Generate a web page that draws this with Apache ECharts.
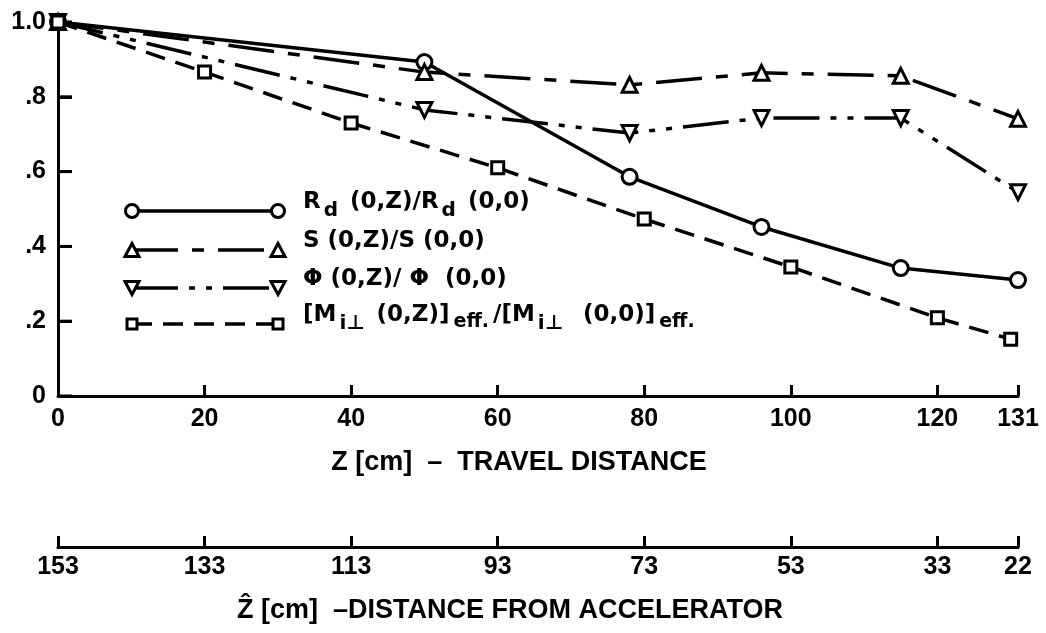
<!DOCTYPE html>
<html>
<head>
<meta charset="utf-8">
<script src="https://cdn.jsdelivr.net/npm/echarts@6/dist/echarts.min.js"></script>
<style>
  html, body { margin: 0; padding: 0; background: #fff; }
  #chart { width: 1046px; height: 633px; }
</style>
</head>
<body>
<div id="chart"></div>
<script>
// Travel distance Z [cm] of each measured point and the normalised quantities
const zRd  = [0, 50, 78, 96, 115, 131];
const vRd  = [1.0, 0.893, 0.586, 0.452, 0.342, 0.310];
const zS   = [0, 50, 78, 96, 115, 131];
const vS   = [1.0, 0.866, 0.832, 0.864, 0.856, 0.741];
const zPhi = [0, 50, 78, 96, 115, 131];
const vPhi = [1.0, 0.765, 0.703, 0.743, 0.743, 0.545];
const zM   = [0, 20, 40, 60, 80, 100, 120, 130];
const vM   = [1.0, 0.866, 0.730, 0.610, 0.473, 0.345, 0.209, 0.152];

// Axis ticks
const zTicks     = [0, 20, 40, 60, 80, 100, 120, 131];
const zHatTicks  = [153, 133, 113, 93, 73, 53, 33, 22];
const yTicks     = [0, 0.2, 0.4, 0.6, 0.8, 1.0];
const yTickText  = ['0', '.2', '.4', '.6', '.8', '1.0'];

// Legend entries (rich text with subscripts)
const legendText = [
  'R{s|d} (0,Z)/R{s|d} (0,0)',
  'S (0,Z)/S (0,0)',
  '\u03A6 (0,Z)/ \u03A6  (0,0)',
  '[M{s|i\u22A5} (0,Z)]{e|eff.}/[M{s|i\u22A5}  (0,0)]{e|eff.}'
];

const FONT = '"Liberation Sans", Arial, Helvetica, sans-serif';
const LFONT = '"DejaVu Sans", "Liberation Sans", sans-serif';
const INK = '#000';
const LW = 3.5;

const styles = [
  { symbol: 'circle',   rotate: 0,   size: 15, dash: 'solid' },
  { symbol: 'triangle', rotate: 0,   size: 15, dash: [46, 14, 12, 14] },
  { symbol: 'triangle', rotate: 180, size: 15, dash: [46, 11, 6, 11, 6, 11] },
  { symbol: 'rect',     rotate: 0,   size: 12, dash: [20, 11] }
];

const pairs = (xs, ys) => xs.map((x, i) => [x, ys[i]]);
const dataSets = [pairs(zRd, vRd), pairs(zS, vS), pairs(zPhi, vPhi), pairs(zM, vM)];

const series = dataSets.map((d, i) => ({
  type: 'line',
  xAxisIndex: 0,
  data: d,
  symbol: styles[i].symbol,
  symbolRotate: styles[i].rotate,
  symbolSize: styles[i].size,
  showAllSymbol: true,
  animation: false,
  lineStyle: { color: INK, width: LW, type: styles[i].dash, cap: 'butt' },
  itemStyle: { color: '#fff', borderColor: INK, borderWidth: 3 },
  z: 3 + i
}));

// Legend key: a line sample with a marker at each end, then the label
function legendGraphic() {
  const rowsY = [211, 250, 288, 324];
  const x1 = 132, x2 = 278, tx = 303;
  const els = [];
  styles.forEach((st, i) => {
    const y = rowsY[i];
    els.push({
      type: 'line', shape: { x1: x1, y1: y, x2: x2, y2: y },
      style: { stroke: INK, lineWidth: LW, lineDash: st.dash === 'solid' ? null : st.dash }
    });
    [x1, x2].forEach(cx => {
      const mk = { style: { fill: '#fff', stroke: INK, lineWidth: 3 }, z: 10 };
      if (st.symbol === 'circle') {
        mk.type = 'circle'; mk.shape = { cx: cx, cy: y, r: 6.5 };
      } else if (st.symbol === 'rect') {
        mk.type = 'rect'; mk.shape = { x: cx - 5, y: y - 5, width: 10, height: 10 };
      } else {
        const h = 6.5, w = 7;
        const pts = st.rotate === 180
          ? [[cx - w, y - h], [cx + w, y - h], [cx, y + h]]
          : [[cx - w, y + h], [cx + w, y + h], [cx, y - h]];
        mk.type = 'polygon'; mk.shape = { points: pts };
      }
      els.push(mk);
    });
    els.push({
      type: 'text', x: tx, y: y - 9,
      style: {
        text: legendText[i], x: 0, y: 0,
        verticalAlign: 'middle', align: 'left',
        font: 'bold 23px ' + LFONT, fill: INK,
        rich: {
          s: { fontFamily: LFONT, fontWeight: 'bold', fontSize: 20, padding: [18, 4, 0, 3] },
          e: { fontFamily: LFONT, fontWeight: 'bold', fontSize: 19, padding: [15, 4, 0, 4] }
        }
      }
    });
  });
  return els;
}

const axisLine = { show: true, lineStyle: { color: INK, width: 3 } };
const tickStyle = { color: INK, width: 3 };
const labelStyle = { color: INK, fontFamily: FONT, fontWeight: 'bold', fontSize: 25 };

const option = {
  backgroundColor: '#fff',
  animation: false,
  grid: { left: 58, right: 28, top: 22, bottom: 237, containLabel: false },
  xAxis: [
    {
      type: 'value', position: 'bottom', min: 0, max: 131,
      axisLine: axisLine,
      axisTick: { show: true, inside: true, length: 11, lineStyle: tickStyle, customValues: zTicks },
      axisLabel: Object.assign({ margin: 11, customValues: zTicks }, labelStyle),
      splitLine: { show: false },
      name: 'Z [cm]  \u2013  TRAVEL DISTANCE',
      nameLocation: 'middle', nameGap: 53,
      nameTextStyle: { color: INK, fontFamily: FONT, fontWeight: 'bold', fontSize: 27, padding: [0, 38, 0, 0] }
    },
    {
      type: 'value', position: 'bottom', offset: 151, min: 22, max: 153, inverse: true,
      axisLine: axisLine,
      axisTick: { show: true, inside: true, length: 11, lineStyle: tickStyle, customValues: zHatTicks },
      axisLabel: Object.assign({ margin: 8, customValues: zHatTicks }, labelStyle),
      splitLine: { show: false },
      name: '\u1E90 [cm]  \u2013DISTANCE FROM ACCELERATOR',
      nameLocation: 'middle', nameGap: 50,
      nameTextStyle: { color: INK, fontFamily: FONT, fontWeight: 'bold', fontSize: 27, padding: [0, 56, 0, 0] }
    }
  ],
  yAxis: {
    type: 'value', min: 0, max: 1, interval: 0.2,
    axisLine: axisLine,
    axisTick: { show: true, inside: true, length: 14, lineStyle: tickStyle },
    axisLabel: Object.assign({
      margin: 12,
      formatter: v => {
        const k = yTicks.findIndex(t => Math.abs(t - v) < 1e-6);
        return k >= 0 ? yTickText[k] : '';
      }
    }, labelStyle),
    splitLine: { show: false }
  },
  series: series,
  graphic: { elements: legendGraphic() }
};

const chart = echarts.init(document.getElementById('chart'), null, { renderer: 'canvas' });
chart.setOption(option);

// Inward y ticks, placed through the axis scale
const x0 = chart.convertToPixel({ xAxisIndex: 0 }, 0);
const yTickMarks = yTicks.map(v => {
  const py = chart.convertToPixel({ yAxisIndex: 0 }, v);
  return {
    type: 'line', z: 2,
    shape: { x1: x0, y1: py, x2: x0 + 14, y2: py },
    style: { stroke: INK, lineWidth: 3 }
  };
});
chart.setOption({ graphic: { elements: legendGraphic().concat(yTickMarks) } });
</script>
</body>
</html>
